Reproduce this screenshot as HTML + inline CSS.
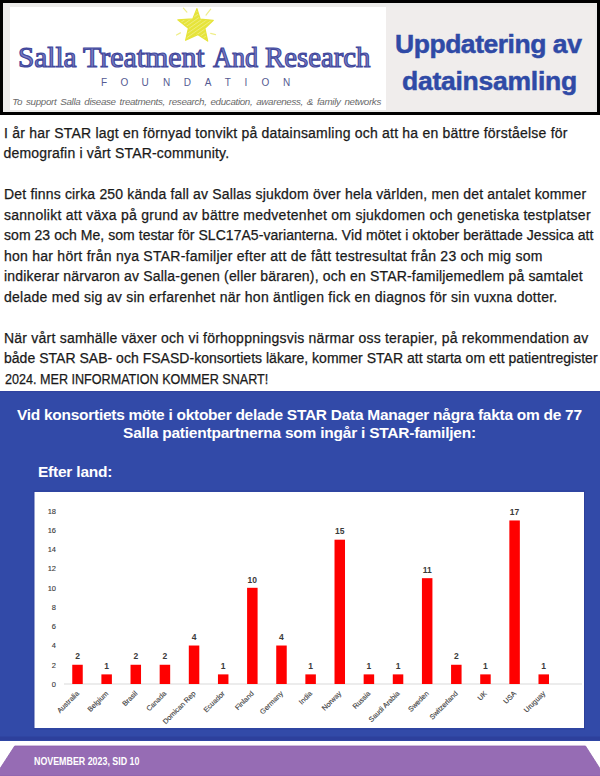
<!DOCTYPE html>
<html><head><meta charset="utf-8">
<style>
html,body{margin:0;padding:0;}
body{width:600px;height:776px;overflow:hidden;position:relative;background:#fff;font-family:"Liberation Sans",sans-serif;}
.abs{position:absolute;}
#hdr{left:0;top:0;width:600px;height:115px;background:#000;}
#hdrin{left:3px;top:3px;width:594px;height:109px;background:#ecebea;}
#logo{left:10px;top:7px;width:376px;height:103px;background:#fff;}
#titlebox{left:386px;top:7px;width:209px;height:103px;background:#f0edec;}
#title{left:0;top:0;font-weight:bold;color:#2f4aa6;font-size:26.5px;line-height:36.6px;white-space:nowrap;-webkit-text-stroke:0.5px #2f4aa6;}
.ln{position:absolute;left:4.5px;white-space:nowrap;font-size:14px;line-height:20.5px;color:#1a1a1a;-webkit-text-stroke:0.25px #1a1a1a;margin-top:0.5px;}
#blue{left:0;top:391.5px;width:600px;height:349px;background:#324aa8;}
.wt{position:absolute;white-space:nowrap;color:#fff;font-weight:bold;font-size:15.5px;line-height:18.5px;}
#chart{left:34.5px;top:492px;width:549.5px;height:236px;background:#fff;}
.lg{position:absolute;transform-origin:0 0;top:39.2px;font-family:"Liberation Serif",serif;font-weight:normal;font-size:30px;line-height:36px;color:#7c81c6;-webkit-text-stroke:1.2px #42489c;white-space:nowrap;}
.fl{position:absolute;top:75.5px;width:20px;text-align:center;font-size:10px;line-height:14px;color:#555a92;}
.yl{font-size:7.5px;fill:#3a3a3a;stroke:#3a3a3a;stroke-width:0.12px;}
.vl{font-size:8.5px;font-weight:bold;fill:#3a3a3a;}
.xl{font-size:7.1px;fill:#444;stroke:#444;stroke-width:0.15px;}
</style></head><body>
<div id="hdr" class="abs"></div>
<div id="hdrin" class="abs"></div>
<div id="logo" class="abs"></div>
<svg class="abs" style="left:0;top:0" width="600" height="115" viewBox="0 0 600 115">
<defs><pattern id="hat" patternUnits="userSpaceOnUse" width="3.2" height="3.2" patternTransform="rotate(-35)"><rect width="3.2" height="3.2" fill="#e6e43a"/><rect width="3.2" height="0.9" fill="#eeed7a"/></pattern></defs>
<polygon points="196.9,8.6 200.2,19.2 213.3,20.3 204.9,28.3 207.7,41.1 197.7,34.6 185.6,40.3 188.4,28.3 177.8,19.9 192.8,18.9" fill="url(#hat)" stroke="#e6e43a" stroke-width="1.2" stroke-linejoin="round"/>
<g stroke="#efee8a" stroke-width="1.2" stroke-linecap="round">
<line x1="183.4" y1="8.2" x2="186.9" y2="12.1"/><line x1="210.7" y1="9.1" x2="206" y2="15.1"/>
<line x1="176.5" y1="35" x2="180.4" y2="32.9"/><line x1="210.7" y1="33.3" x2="215.5" y2="34.6"/>
</g></svg>
<div id="s0" class="lg" style="left:17.89px;transform:scaleX(0.9776)">Salla</div>
<div id="s1" class="lg" style="left:83.22px;transform:scaleX(0.9952)">Treatment</div>
<div id="s2" class="lg" style="left:213.02px;transform:scaleX(0.8715)">And</div>
<div id="s3" class="lg" style="left:265.00px;transform:scaleX(0.9593)">Research</div>
<div class="fl" style="left:94.0px">F</div><div class="fl" style="left:114.4px">O</div><div class="fl" style="left:135.1px">U</div><div class="fl" style="left:156.5px">N</div><div class="fl" style="left:177.4px">D</div><div class="fl" style="left:198.2px">A</div><div class="fl" style="left:217.8px">T</div><div class="fl" style="left:236.0px">I</div><div class="fl" style="left:255.5px">O</div><div class="fl" style="left:276.5px">N</div>
<div id="tag" class="abs" style="left:12.30px;top:94.5px;font-style:italic;font-size:9.8px;line-height:14px;color:#6a6a6a;white-space:nowrap;letter-spacing:-0.335px;word-spacing:1.5px">To support Salla disease treatments, research, education, awareness, &amp; family networks</div>
<div id="titlebox" class="abs"></div>
<div id="title" class="abs" style="width:600px;height:115px"><div id="t0" style="position:absolute;left:395.00px;top:26px;letter-spacing:-0.462px">Uppdatering av</div><div id="t1" style="position:absolute;left:402.00px;top:62.6px;letter-spacing:-0.250px">datainsamling</div></div>

<div id="b0" class="ln" style="top:122.2px;letter-spacing:0.213px;left:4.00px">I år har STAR lagt en förnyad tonvikt på datainsamling och att ha en bättre förståelse för</div>
<div id="b1" class="ln" style="top:142.7px;letter-spacing:0.184px;left:3.50px">demografin i vårt STAR-community.</div>
<div id="b2" class="ln" style="top:183.7px;letter-spacing:0.175px;left:4.00px">Det finns cirka 250 kända fall av Sallas sjukdom över hela världen, men det antalet kommer</div>
<div id="b3" class="ln" style="top:204.2px;letter-spacing:0.257px;left:4.00px">sannolikt att växa på grund av bättre medvetenhet om sjukdomen och genetiska testplatser</div>
<div id="b4" class="ln" style="top:224.7px;letter-spacing:0.049px;left:4.00px">som 23 och Me, som testar för SLC17A5-varianterna. Vid mötet i oktober berättade Jessica att</div>
<div id="b5" class="ln" style="top:245.2px;letter-spacing:0.250px;left:4.00px">hon har hört från nya STAR-familjer efter att de fått testresultat från 23 och mig som</div>
<div id="b6" class="ln" style="top:265.7px;letter-spacing:0.178px;left:4.00px">indikerar närvaron av Salla-genen (eller bäraren), och en STAR-familjemedlem på samtalet</div>
<div id="b7" class="ln" style="top:286.2px;letter-spacing:0.261px;left:4.00px">delade med sig av sin erfarenhet när hon äntligen fick en diagnos för sin vuxna dotter.</div>
<div id="b8" class="ln" style="top:327.2px;letter-spacing:0.223px;left:4.00px">När vårt samhälle växer och vi förhoppningsvis närmar oss terapier, på rekommendation av</div>
<div id="b9" class="ln" style="top:347.7px;letter-spacing:0.022px;left:4.00px">både STAR SAB- och FSASD-konsortiets läkare, kommer STAR att starta om ett patientregister</div>
<div id="b10" class="ln" style="top:368.2px;transform-origin:0 0;left:4.50px;transform:scaleX(0.8993)">2024. MER INFORMATION KOMMER SNART!</div>

<div id="blue" class="abs"></div>
<div id="w0" class="wt" style="left:17.00px;top:405.7px;letter-spacing:-0.280px">Vid konsortiets möte i oktober delade STAR Data Manager några fakta om de 77</div>
<div id="w1" class="wt" style="left:123.10px;top:423.5px;letter-spacing:-0.229px">Salla patientpartnerna som ingår i STAR-familjen:</div>
<div id="w2" class="wt" style="left:37.90px;top:462.5px;letter-spacing:-0.200px">Efter land:</div>
<svg class="abs" style="left:0;top:0" width="600" height="776" viewBox="0 0 600 776">
<rect x="34" y="491" width="550.5" height="238" fill="none" stroke="#2d409a" stroke-width="1"/>
<rect x="34.5" y="492" width="549.5" height="236" fill="#fff"/>
<text x="56" y="686.7" text-anchor="end" class="yl">0</text>
<text x="56" y="667.5" text-anchor="end" class="yl">2</text>
<text x="56" y="648.2" text-anchor="end" class="yl">4</text>
<text x="56" y="629.0" text-anchor="end" class="yl">6</text>
<text x="56" y="609.7" text-anchor="end" class="yl">8</text>
<text x="56" y="590.5" text-anchor="end" class="yl">10</text>
<text x="56" y="571.3" text-anchor="end" class="yl">12</text>
<text x="56" y="552.0" text-anchor="end" class="yl">14</text>
<text x="56" y="532.8" text-anchor="end" class="yl">16</text>
<text x="56" y="513.5" text-anchor="end" class="yl">18</text>
<line x1="64" y1="684.0" x2="582" y2="684.0" stroke="#d9d9d9" stroke-width="1"/>
<rect x="72.25" y="664.76" width="10.5" height="19.24" fill="#ff0000"/>
<text x="77.50" y="659.46" text-anchor="middle" class="vl">2</text>
<text transform="translate(79.50,694) rotate(-45)" text-anchor="end" class="xl">Australia</text>
<rect x="101.39" y="674.38" width="10.5" height="9.62" fill="#ff0000"/>
<text x="106.64" y="669.08" text-anchor="middle" class="vl">1</text>
<text transform="translate(108.64,694) rotate(-45)" text-anchor="end" class="xl">Belgium</text>
<rect x="130.53" y="664.76" width="10.5" height="19.24" fill="#ff0000"/>
<text x="135.78" y="659.46" text-anchor="middle" class="vl">2</text>
<text transform="translate(137.78,694) rotate(-45)" text-anchor="end" class="xl">Brasil</text>
<rect x="159.67" y="664.76" width="10.5" height="19.24" fill="#ff0000"/>
<text x="164.92" y="659.46" text-anchor="middle" class="vl">2</text>
<text transform="translate(166.92,694) rotate(-45)" text-anchor="end" class="xl">Canada</text>
<rect x="188.81" y="645.52" width="10.5" height="38.48" fill="#ff0000"/>
<text x="194.06" y="640.22" text-anchor="middle" class="vl">4</text>
<text transform="translate(196.06,694) rotate(-45)" text-anchor="end" class="xl">Domican Rep</text>
<rect x="217.95" y="674.38" width="10.5" height="9.62" fill="#ff0000"/>
<text x="223.20" y="669.08" text-anchor="middle" class="vl">1</text>
<text transform="translate(225.20,694) rotate(-45)" text-anchor="end" class="xl">Ecuador</text>
<rect x="247.09" y="587.80" width="10.5" height="96.20" fill="#ff0000"/>
<text x="252.34" y="582.50" text-anchor="middle" class="vl">10</text>
<text transform="translate(254.34,694) rotate(-45)" text-anchor="end" class="xl">Finland</text>
<rect x="276.23" y="645.52" width="10.5" height="38.48" fill="#ff0000"/>
<text x="281.48" y="640.22" text-anchor="middle" class="vl">4</text>
<text transform="translate(283.48,694) rotate(-45)" text-anchor="end" class="xl">Germany</text>
<rect x="305.37" y="674.38" width="10.5" height="9.62" fill="#ff0000"/>
<text x="310.62" y="669.08" text-anchor="middle" class="vl">1</text>
<text transform="translate(312.62,694) rotate(-45)" text-anchor="end" class="xl">India</text>
<rect x="334.51" y="539.70" width="10.5" height="144.30" fill="#ff0000"/>
<text x="339.76" y="534.40" text-anchor="middle" class="vl">15</text>
<text transform="translate(341.76,694) rotate(-45)" text-anchor="end" class="xl">Norway</text>
<rect x="363.65" y="674.38" width="10.5" height="9.62" fill="#ff0000"/>
<text x="368.90" y="669.08" text-anchor="middle" class="vl">1</text>
<text transform="translate(370.90,694) rotate(-45)" text-anchor="end" class="xl">Russia</text>
<rect x="392.79" y="674.38" width="10.5" height="9.62" fill="#ff0000"/>
<text x="398.04" y="669.08" text-anchor="middle" class="vl">1</text>
<text transform="translate(400.04,694) rotate(-45)" text-anchor="end" class="xl">Saudi Arabia</text>
<rect x="421.93" y="578.18" width="10.5" height="105.82" fill="#ff0000"/>
<text x="427.18" y="572.88" text-anchor="middle" class="vl">11</text>
<text transform="translate(429.18,694) rotate(-45)" text-anchor="end" class="xl">Sweden</text>
<rect x="451.07" y="664.76" width="10.5" height="19.24" fill="#ff0000"/>
<text x="456.32" y="659.46" text-anchor="middle" class="vl">2</text>
<text transform="translate(458.32,694) rotate(-45)" text-anchor="end" class="xl">Switzerland</text>
<rect x="480.21" y="674.38" width="10.5" height="9.62" fill="#ff0000"/>
<text x="485.46" y="669.08" text-anchor="middle" class="vl">1</text>
<text transform="translate(487.46,694) rotate(-45)" text-anchor="end" class="xl">UK</text>
<rect x="509.35" y="520.46" width="10.5" height="163.54" fill="#ff0000"/>
<text x="514.60" y="515.16" text-anchor="middle" class="vl">17</text>
<text transform="translate(516.60,694) rotate(-45)" text-anchor="end" class="xl">USA</text>
<rect x="538.49" y="674.38" width="10.5" height="9.62" fill="#ff0000"/>
<text x="543.74" y="669.08" text-anchor="middle" class="vl">1</text>
<text transform="translate(545.74,694) rotate(-45)" text-anchor="end" class="xl">Uruguay</text>
</svg>

<svg class="abs" style="left:0;top:0" width="600" height="776" viewBox="0 0 600 776">
<polygon points="14.7,746 585.5,746 604.7,776 -4.8,776" fill="#966cb4" stroke="#8a5faa" stroke-width="0.8"/>
<rect x="0" y="391" width="600" height="1.2" fill="#2f43a0"/>
<rect x="0" y="736.5" width="600" height="3.8" fill="#2d409c"/>
</svg>
<div id="ft" class="abs" style="left:34.16px;top:753.5px;font-size:10.5px;line-height:14px;font-weight:bold;color:#fff;white-space:nowrap;transform-origin:0 0;transform:scaleX(0.8440)">NOVEMBER 2023, SID 10</div>
</body></html>
